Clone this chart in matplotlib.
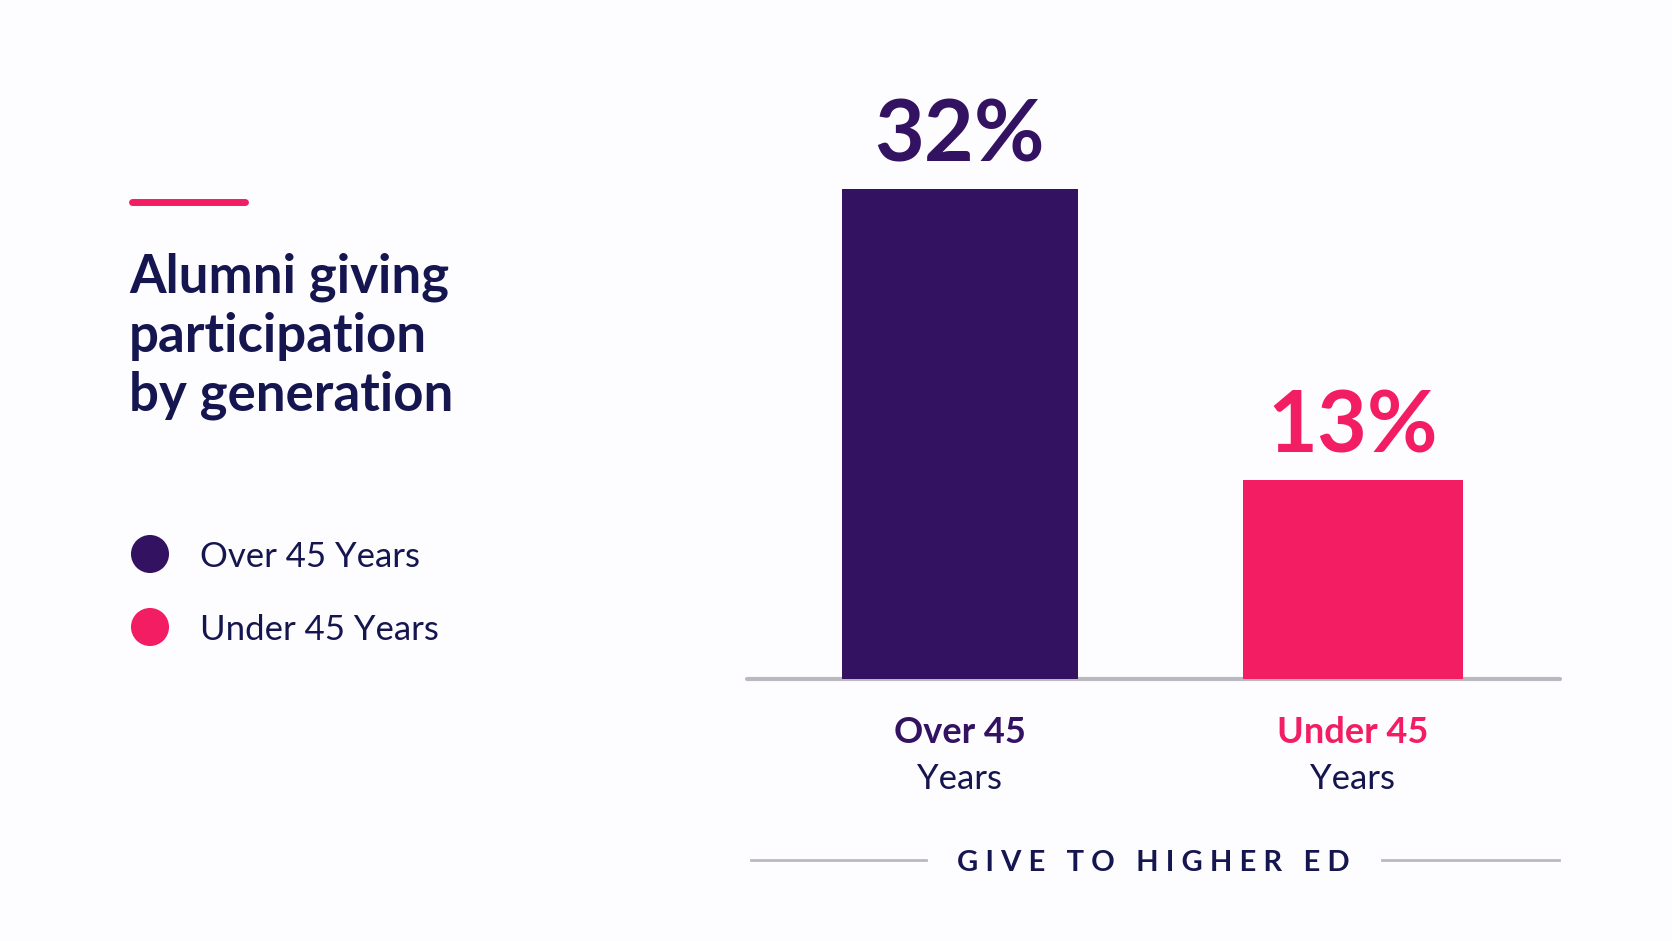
import matplotlib
matplotlib.use("Agg")
import matplotlib.pyplot as plt

plt.rcParams['font.family'] = ['Lato', 'DejaVu Sans']

# data
groups = ["Over 45 Years", "Under 45 Years"]
label_top = ["Over 45", "Under 45"]
label_bottom = ["Years", "Years"]
values = [32, 13]
bar_widths = [0.60, 0.56]
footer_words = ["GIVE", "TO", "HIGHER", "ED"]

PURPLE = "#341262"
PINK = "#F21D63"
NAVY = "#15164F"
GREY = "#B9B9BF"
BG = "#FDFCFE"
colors = [PURPLE, PINK]
label_colors = [PURPLE, PINK]

W, H = 1672, 941
fig = plt.figure(figsize=(W / 100, H / 100), dpi=100, facecolor=BG)

# overlay axes in pixel coordinates for the decorations
deco = fig.add_axes([0, 0, 1, 1])
deco.set_xlim(0, W)
deco.set_ylim(H, 0)
deco.axis("off")
deco.set_facecolor(BG)

# accent line and title
deco.plot([132, 245], [202, 202], color=PINK, lw=5, solid_capstyle="round")
title_lines = ["Alumni giving", "participation", "by generation"]
for i, line in enumerate(title_lines):
    deco.text(129, 293 + i * 59, line, fontsize=38, fontweight="bold",
              color=NAVY, va="baseline", ha="left")

# legend
for i, (g, c) in enumerate(zip(groups, colors)):
    y = 554 + i * 73
    deco.scatter([150], [y], s=750, color=c, edgecolors="none")
    deco.text(200, y + 13, g, fontsize=25, color=NAVY, va="baseline", ha="left")

# footer
footer = "   ".join(" ".join(w) for w in footer_words)
deco.plot([751, 926], [860, 860], color=GREY, lw=2)
deco.plot([1382, 1559], [860, 860], color=GREY, lw=2)
deco.text(1153, 871, footer, fontsize=21, fontweight="bold", color=NAVY,
          va="baseline", ha="center")

# bar chart axes
left, right, base, top = 747, 1560, 679, 60
ax = fig.add_axes([left / W, 1 - base / H, (right - left) / W, (base - top) / H])
ax.set_facecolor("none")
x = list(range(len(values)))
ymax = values[0] * (base - top) / (base - 189)
ax.set_ylim(0, ymax)
ax.set_xlim(-0.542, 1.527)
ax.bar(x, values, width=bar_widths, color=colors, zorder=2)
ax.axhline(0, color=GREY, lw=3, solid_capstyle="round", clip_on=False, zorder=1)
for s in ax.spines.values():
    s.set_visible(False)
ax.set_xticks([])
ax.set_yticks([])

for i, v in enumerate(values):
    ax.annotate(f"{v}%", (x[i], v), xytext=(0, 20), textcoords="offset points",
                ha="center", va="baseline", fontsize=62, fontweight="bold",
                color=colors[i], annotation_clip=False)
    ax.annotate(label_top[i], (x[i], 0), xytext=(0, -46), textcoords="offset points",
                ha="center", va="baseline", fontsize=26, fontweight="bold",
                color=label_colors[i], annotation_clip=False)
    ax.annotate(label_bottom[i], (x[i], 0), xytext=(0, -79), textcoords="offset points",
                ha="center", va="baseline", fontsize=25, color=NAVY,
                annotation_clip=False)

fig.savefig("out.png", dpi=100, facecolor=BG)
